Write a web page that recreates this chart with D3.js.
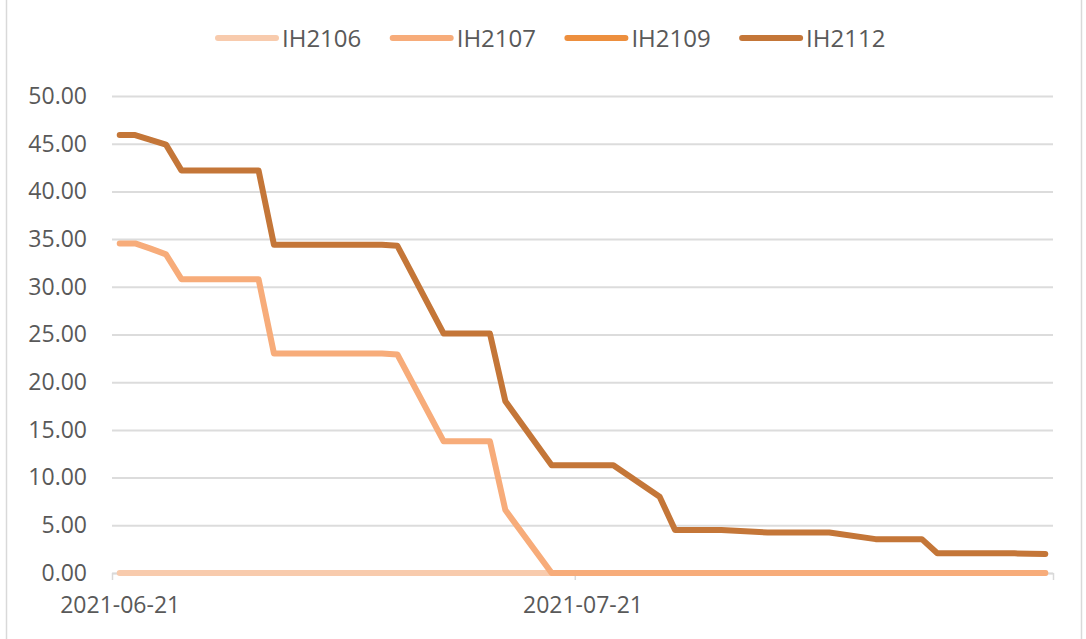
<!DOCTYPE html>
<html>
<head>
<meta charset="utf-8">
<script src="https://cdn.jsdelivr.net/npm/d3@7"></script>
<style>
    body { margin: 0; background: #fff; }
    text { font-family: "Open Sans", "Liberation Sans", sans-serif; fill: #595959; }
</style>
</head>
<body>
<div id="chart"></div>
<script>
// trading days shown on the chart
var dates = [
    "2021-06-21", "2021-06-22", "2021-06-23", "2021-06-24", "2021-06-25",
    "2021-06-28", "2021-06-29", "2021-06-30", "2021-07-01", "2021-07-02",
    "2021-07-05", "2021-07-06", "2021-07-07", "2021-07-08", "2021-07-09",
    "2021-07-12", "2021-07-13", "2021-07-14", "2021-07-15", "2021-07-16",
    "2021-07-19", "2021-07-20", "2021-07-21", "2021-07-22", "2021-07-23",
    "2021-07-26", "2021-07-27", "2021-07-28", "2021-07-29", "2021-07-30",
    "2021-08-02", "2021-08-03", "2021-08-04", "2021-08-05", "2021-08-06",
    "2021-08-09", "2021-08-10", "2021-08-11", "2021-08-12", "2021-08-13",
    "2021-08-16", "2021-08-17", "2021-08-18", "2021-08-19", "2021-08-20"
];

var seriesNames = ["IH2106", "IH2107", "IH2109", "IH2112"];
var seriesColors = ["#F8CBAD", "#F7AC7A", "#ED8F3E", "#C47638"];

var ih2106 = [
    0, 0, 0, 0, 0, 0, 0, 0, 0, 0, 0, 0, 0, 0, 0, 0, 0, 0, 0, 0, 0, 0, 0,
    0, 0, 0, 0, 0, 0, 0, 0, 0, 0, 0, 0, 0, 0, 0, 0, 0, 0, 0, 0, 0, 0
];
var ih2107 = [
    34.55, 34.55, 34.0, 33.4, 30.8, 30.8, 30.8, 30.8, 23.0, 23.0,
    23.0, 23.0, 23.0, 23.0, 22.9, 13.8, 13.8, 13.8, 13.8, 6.6,
    0, 0, 0, 0, 0, 0, 0, 0, 0, 0, 0, 0, 0, 0, 0, 0, 0, 0, 0, 0,
    0, 0, 0, 0, 0
];
var ih2109 = []; // no values plotted, only in legend
var ih2112 = [
    45.9, 45.9, 45.4, 44.9, 42.2, 42.2, 42.2, 42.2, 34.4, 34.4,
    34.4, 34.4, 34.4, 34.4, 34.3, 25.1, 25.1, 25.1, 25.1, 18.0,
    11.3, 11.3, 11.3, 11.3, 11.3, 8.0, 4.5, 4.5, 4.5, 4.5,
    4.25, 4.25, 4.25, 4.25, 4.25, 3.55, 3.55, 3.55, 3.55, 2.08,
    2.08, 2.08, 2.06, 2.03, 2.0
];
var seriesValues = [ih2106, ih2107, ih2109, ih2112];

var xTickDates = ["2021-06-21", "2021-07-21", "2021-08-21"];
var xTickNames = ["2021-06-21", "2021-07-21", ""];
var yTicks = [0, 5, 10, 15, 20, 25, 30, 35, 40, 45, 50];

var W = 1086, H = 639;
var margin = { top: 96, right: 33, bottom: 66, left: 112 };
var width = W - margin.left - margin.right,
    height = H - margin.top - margin.bottom;

var dateParse = d3.timeParse("%Y-%m-%d");

var svg = d3.select("#chart").append("svg")
    .attr("width", W)
    .attr("height", H);

// chart frame (only the sides are in view)
svg.append("line").attr("x1", 6.5).attr("x2", 6.5).attr("y1", 0).attr("y2", H)
    .attr("stroke", "#D9D9D9").attr("stroke-width", 1.5);
svg.append("line").attr("x1", 1081.5).attr("x2", 1081.5).attr("y1", 0).attr("y2", H)
    .attr("stroke", "#D9D9D9").attr("stroke-width", 1.5);

var g = svg.append("g")
    .attr("transform", "translate(" + margin.left + "," + margin.top + ")");

// date axis, each day is one slot, values sit in the middle of the slot
var xScale = d3.scaleTime()
    .domain([dateParse("2021-06-21"), dateParse("2021-08-21")])
    .range([0, width]);
var halfDay = (xScale(dateParse("2021-06-22")) - xScale(dateParse("2021-06-21"))) / 2;

var yScale = d3.scaleLinear()
    .domain([0, 50])
    .range([height, 0]);

// gridlines
g.append("g")
    .attr("class", "grid")
    .call(d3.axisLeft(yScale).tickValues(yTicks).tickSize(-width).tickFormat(""))
    .call(function (s) { s.select(".domain").remove(); })
    .selectAll("line")
    .attr("stroke", "#DCDCDC")
    .attr("stroke-width", 2);

// y labels
g.append("g")
    .attr("class", "y-axis")
    .call(d3.axisLeft(yScale).tickValues(yTicks).tickSize(0).tickPadding(25).tickFormat(d3.format(".2f")))
    .call(function (s) { s.select(".domain").remove(); })
    .selectAll("text")
    .style("font-size", "23px")
    .attr("fill", "#595959");

// x axis
var xAxis = g.append("g")
    .attr("class", "x-axis")
    .attr("transform", "translate(0," + height + ")")
    .call(d3.axisBottom(xScale)
        .tickValues(xTickDates.map(dateParse))
        .tickSizeInner(7)
        .tickSizeOuter(0)
        .tickPadding(17)
        .tickFormat(function (d, i) { return xTickNames[i]; }));

xAxis.select(".domain").attr("stroke", "#D9D9D9").attr("stroke-width", 1.5);
xAxis.selectAll(".tick line").attr("stroke", "#D9D9D9").attr("stroke-width", 1.5);
xAxis.selectAll(".tick text")
    .attr("x", halfDay)
    .style("font-size", "23px")
    .attr("fill", "#595959");

// lines
var line = d3.line()
    .defined(function (d) { return d.v != null; })
    .x(function (d) { return xScale(d.date) + halfDay; })
    .y(function (d) { return yScale(d.v); });

seriesNames.forEach(function (name, i) {
    var vals = seriesValues[i];
    if (!vals.length) return;
    var pts = dates.map(function (d, j) { return { date: dateParse(d), v: vals[j] }; });
    g.append("path")
        .datum(pts)
        .attr("fill", "none")
        .attr("stroke", seriesColors[i])
        .attr("stroke-width", 6)
        .attr("stroke-linecap", "round")
        .attr("stroke-linejoin", "round")
        .attr("d", line);
});

// legend
var legend = svg.append("g").attr("class", "legend")
    .attr("transform", "translate(218,38)");

var item = legend.selectAll("g.item")
    .data(seriesNames)
    .enter().append("g")
    .attr("class", "item")
    .attr("transform", function (d, i) { return "translate(" + (i * 174.7) + ",0)"; });

item.append("line")
    .attr("x1", 0).attr("x2", 58)
    .attr("y1", 0).attr("y2", 0)
    .attr("stroke", function (d, i) { return seriesColors[i]; })
    .attr("stroke-width", 6)
    .attr("stroke-linecap", "round");

item.append("text")
    .attr("x", 64)
    .attr("y", 9)
    .style("font-size", "24px")
    .text(function (d) { return d; });
</script>
</body>
</html>
